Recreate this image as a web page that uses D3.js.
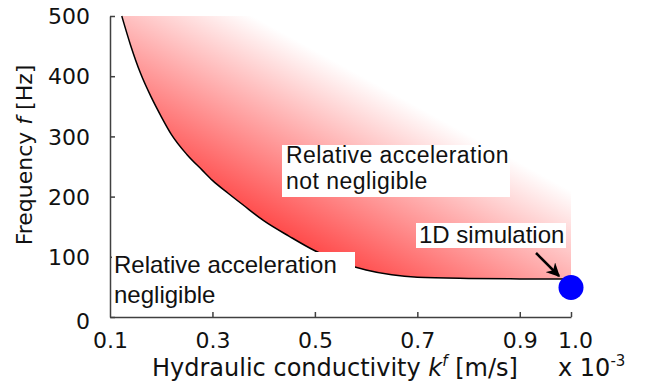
<!DOCTYPE html>
<html>
<head>
<meta charset="utf-8">
<script src="https://cdn.jsdelivr.net/npm/d3@7"></script>
<style>
  body { margin: 0; background: #fff; }
  svg { display: block; }
  .axis path, .axis line { stroke: #404040; stroke-width: 1.5; }
  .axis text { font-family: "DejaVu Sans", sans-serif; font-size: 22px; fill: #111; }
  .note { font-family: "Liberation Sans", Arial, sans-serif; font-size: 24px; fill: #111; }
  .label { font-family: "DejaVu Sans", sans-serif; fill: #111; }
</style>
</head>
<body>
<div id="chart"></div>
<script>
// boundary curve: hydraulic conductivity (x 1e-3 m/s) vs frequency (Hz)
const boundaryK = [0.123, 0.14, 0.16, 0.18, 0.2, 0.22, 0.25, 0.28, 0.3, 0.33, 0.36, 0.4, 0.45, 0.5, 0.55, 0.6, 0.65, 0.7, 0.8, 0.9, 1.0];
const boundaryF = [500, 452, 404, 366, 333, 303, 270, 244, 227, 206, 186, 160, 134, 110, 91, 78, 70, 66, 64, 63.3, 63];
// 1D simulation point
const simK = [1.0];
const simF = [49];
const xTicks = [0.1, 0.3, 0.5, 0.7, 0.9, 1.0];
const yTicks = [0, 100, 200, 300, 400, 500];

const width = 648, height = 388;
const svg = d3.select('#chart').append('svg')
  .attr('width', width)
  .attr('height', height);

const x = d3.scaleLinear().domain([0.1, 1.0]).range([110, 571]);
const y = d3.scaleLinear().domain([0, 500]).range([317, 16]);

const pts = boundaryK.map((k, i) => [k, boundaryF[i]]);

// gradient for the "not negligible" region
const defs = svg.append('defs');
const grad = defs.append('linearGradient')
  .attr('id', 'redfade')
  .attr('gradientUnits', 'userSpaceOnUse')
  .attr('x1', 290).attr('y1', 250)
  .attr('x2', 380).attr('y2', 86);
grad.append('stop').attr('offset', 0).attr('stop-color', '#ff4040');
grad.append('stop').attr('offset', 1).attr('stop-color', '#ffffff');

const area = d3.area()
  .x(d => x(d[0]))
  .y0(y(500))
  .y1(d => y(d[1]))
  .curve(d3.curveMonotoneX);

svg.append('path')
  .datum(pts)
  .attr('d', area)
  .attr('fill', 'url(#redfade)');

const line = d3.line()
  .x(d => x(d[0]))
  .y(d => y(d[1]))
  .curve(d3.curveMonotoneX);

svg.append('path')
  .datum(pts)
  .attr('d', line)
  .attr('fill', 'none')
  .attr('stroke', '#000')
  .attr('stroke-width', 1.5);

// axes, ticks pointing inwards
const yAxis = svg.append('g')
  .attr('class', 'axis')
  .attr('transform', `translate(${x(0.1)},0)`)
  .call(d3.axisLeft(y).tickValues(yTicks).tickSizeInner(-5).tickSizeOuter(0).tickPadding(20));
yAxis.selectAll('text').attr('dy', '0.35em');
yAxis.selectAll('.tick').filter(d => d === 0).select('text').attr('dy', '0.5em');

const xAxis = svg.append('g')
  .attr('class', 'axis')
  .attr('transform', `translate(0,${y(0)})`)
  .call(d3.axisBottom(x).tickValues(xTicks).tickFormat(d3.format('.1f')).tickSizeInner(-5).tickSizeOuter(0).tickPadding(15));
xAxis.selectAll('line').filter(d => d === 0.1).remove();
xAxis.selectAll('.tick').filter(d => d === 1.0).select('text').attr('dx', 4);

// text annotations on white boxes
function note(lines, tx, ty, lh, box, size) {
  const g = svg.append('g');
  if (box) {
    g.append('rect')
      .attr('x', box[0]).attr('y', box[1])
      .attr('width', box[2]).attr('height', box[3])
      .attr('fill', '#fff');
  }
  lines.forEach((s, i) => {
    const t = g.append('text')
      .attr('class', 'note')
      .attr('x', tx)
      .attr('y', ty + i * lh)
      .text(s);
    if (size) t.style('font-size', size + 'px').style('letter-spacing', '0.45px');
  });
}

note(['Relative acceleration', 'not negligible'], 286, 163, 26, [282, 145, 228, 52], 23);
note(['Relative acceleration'], 114, 273, 30, [112, 252, 243, 29]);
note(['negligible'], 114, 303, 30, null);
note(['1D simulation'], 419, 243, 22, [416, 223, 150, 25]);

// arrow to the 1D simulation point
defs.append('marker')
  .attr('id', 'head')
  .attr('viewBox', '0 0 10 10')
  .attr('refX', 9).attr('refY', 5)
  .attr('markerWidth', 5.5).attr('markerHeight', 5.5)
  .attr('orient', 'auto')
  .append('path')
  .attr('d', 'M0,0L10,5L0,10L3,5Z')
  .attr('fill', '#000');

svg.append('line')
  .attr('x1', 536).attr('y1', 253)
  .attr('x2', 559).attr('y2', 276)
  .attr('stroke', '#000')
  .attr('stroke-width', 2.5)
  .attr('marker-end', 'url(#head)');

svg.selectAll('.sim')
  .data(simK)
  .enter()
  .append('circle')
  .attr('class', 'sim')
  .attr('cx', d => x(d))
  .attr('cy', (d, i) => y(simF[i]))
  .attr('r', 12.5)
  .attr('fill', '#0000ff');

// axis labels
const xl = svg.append('text')
  .attr('class', 'label')
  .attr('font-size', '24px')
  .attr('x', 152)
  .attr('y', 376);
xl.append('tspan').text('Hydraulic conductivity ');
xl.append('tspan').attr('font-style', 'italic').text('k');
xl.append('tspan').attr('font-size', '15px').attr('dy', -10).attr('font-style', 'italic').text('f');
xl.append('tspan').attr('dy', 10).text(' [m/s]');

const xs = svg.append('text')
  .attr('class', 'label')
  .attr('font-size', '24px')
  .attr('x', 558)
  .attr('y', 376);
xs.append('tspan').text('x 10');
xs.append('tspan').attr('font-size', '15px').attr('dy', -10).text('-3');

const yl = svg.append('text')
  .attr('class', 'label')
  .attr('font-size', '22px')
  .attr('transform', 'translate(32,155) rotate(-90)')
  .attr('text-anchor', 'middle');
yl.append('tspan').text('Frequency ');
yl.append('tspan').attr('font-style', 'italic').text('f');
yl.append('tspan').text(' [Hz]');
</script>
</body>
</html>
